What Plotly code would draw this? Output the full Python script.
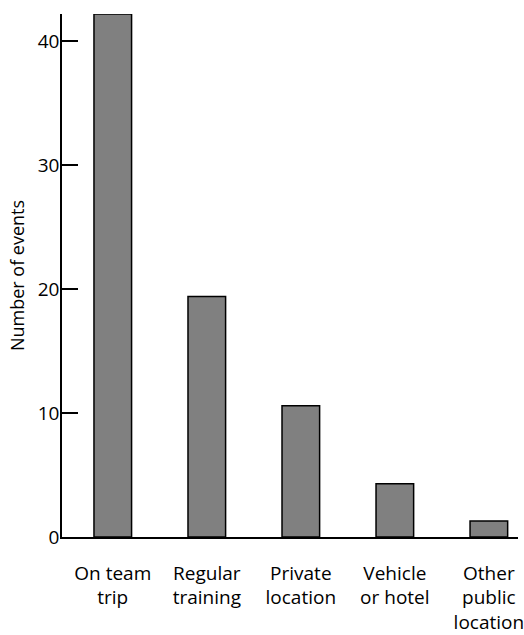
import plotly.graph_objects as go

categories = [
    "On team<br>trip",
    "Regular<br>training",
    "Private<br>location",
    "Vehicle<br>or hotel",
    "Other<br>public<br>location",
]
events = [42.2, 19.4, 10.6, 4.3, 1.3]
y_ticks = [0, 10, 20, 30, 40]

font = "Open Sans, Noto Sans, sans-serif"

fig = go.Figure(
    go.Bar(
        x=categories,
        y=events,
        marker=dict(color="#808080", line=dict(color="black", width=1.5)),
        width=0.4,
    )
)

fig.update_layout(
    width=524,
    height=635,
    margin=dict(l=62, r=6, t=14, b=98),
    plot_bgcolor="white",
    paper_bgcolor="white",
    font=dict(family=font, size=19, color="black"),
    showlegend=False,
)

fig.update_xaxes(
    range=[-0.54, 4.31],
    showline=True,
    linecolor="black",
    linewidth=1.5,
    ticks="",
    showgrid=False,
    ticklabelstandoff=18,
    automargin=False,
)

fig.update_yaxes(
    range=[0, 42.2],
    tickvals=y_ticks,
    showline=True,
    linecolor="black",
    linewidth=1.5,
    ticks="inside",
    ticklen=16,
    tickwidth=1.5,
    tickcolor="black",
    showgrid=False,
    zeroline=False,
    ticklabelstandoff=-3,
    title=dict(text="Number of events", standoff=8, font=dict(size=18)),
    automargin=False,
)

# drop the default body margin so the figure fills the window
fig.write_html(
    "out.html",
    config={"displayModeBar": False},
    post_script="document.body.style.margin='0';document.body.style.overflow='hidden';",
)
